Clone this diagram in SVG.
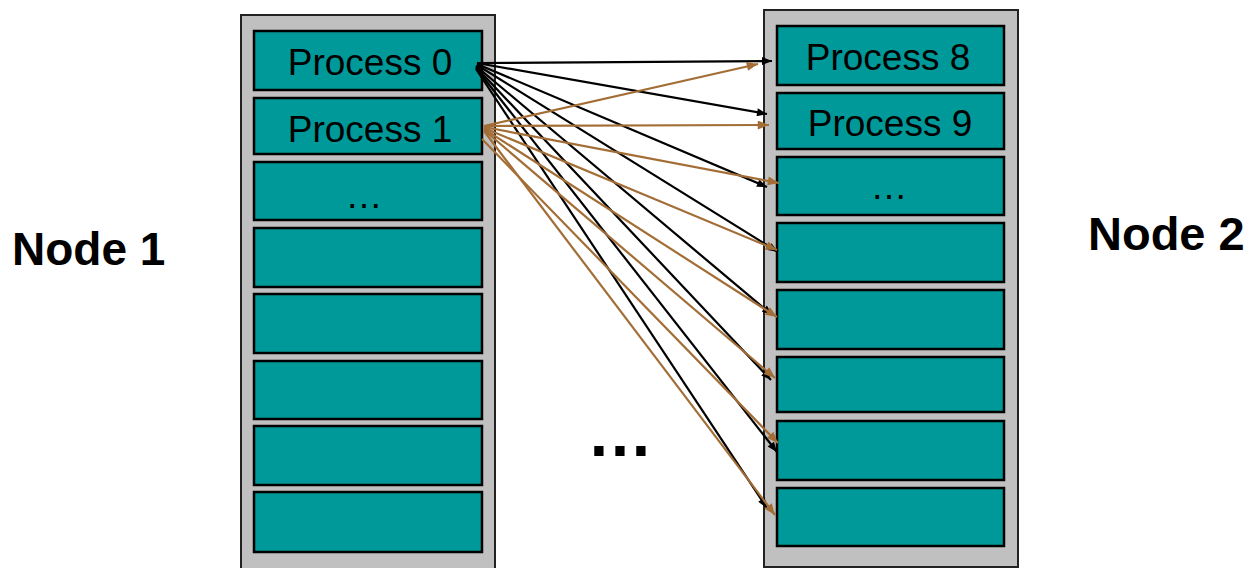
<svg xmlns="http://www.w3.org/2000/svg" width="1251" height="568" viewBox="0 0 1251 568">
<style>
.cont{fill:#c0c0c0;stroke:#222;stroke-width:2}
.box{fill:#009999;stroke:#000;stroke-width:2.5}
.lbl{font-family:"Liberation Sans",Arial,sans-serif;font-size:37px;fill:#000;text-anchor:middle}
.node{font-family:"Liberation Sans",Arial,sans-serif;font-weight:bold;fill:#000}
.blk{stroke:#000;stroke-width:2.2;fill:none;marker-end:url(#ah-b)}
.brn{stroke:#a36d36;stroke-width:2.2;fill:none;marker-end:url(#ah-o)}
</style>
<defs>
<marker id="ah-b" viewBox="0 0 10 8" refX="10" refY="4" markerWidth="11" markerHeight="8" markerUnits="userSpaceOnUse" orient="auto"><path d="M0,0 L10,4 L0,8 z" fill="#000"/></marker>
<marker id="ah-o" viewBox="0 0 10 8" refX="10" refY="4" markerWidth="12" markerHeight="9" markerUnits="userSpaceOnUse" orient="auto"><path d="M0,0 L10,4 L0,8 z" fill="#a36d36"/></marker>
</defs>
<rect width="1251" height="568" fill="#fff"/>
<g id="node1">
<rect class="cont" x="241" y="15" width="254" height="560"/>
<g id="p0"><rect class="box" x="254" y="31" width="228" height="59"/><text class="lbl" x="370" y="75">Process 0</text></g>
<g id="p1"><rect class="box" x="254" y="98" width="228" height="56"/><text class="lbl" x="370" y="142">Process 1</text></g>
<g id="p2"><rect class="box" x="254" y="162" width="228" height="58"/><text class="lbl" x="364" y="208">…</text></g>
<g id="p3"><rect class="box" x="254" y="228" width="228" height="59"/></g>
<g id="p4"><rect class="box" x="254" y="294" width="228" height="59"/></g>
<g id="p5"><rect class="box" x="254" y="361" width="228" height="58"/></g>
<g id="p6"><rect class="box" x="254" y="426" width="228" height="59"/></g>
<g id="p7"><rect class="box" x="254" y="492" width="228" height="60"/></g>
<text class="node" x="12" y="265" font-size="46">Node 1</text>
</g>
<g id="node2">
<rect class="cont" x="764" y="10" width="254" height="557"/>
<g id="p8"><rect class="box" x="777" y="26" width="227" height="59"/><text class="lbl" x="888" y="70">Process 8</text></g>
<g id="p9"><rect class="box" x="777" y="93" width="227" height="56"/><text class="lbl" x="890" y="136">Process 9</text></g>
<g id="p10"><rect class="box" x="777" y="157" width="227" height="58"/><text class="lbl" x="889" y="199">…</text></g>
<g id="p11"><rect class="box" x="777" y="223" width="227" height="59"/></g>
<g id="p12"><rect class="box" x="777" y="290" width="227" height="59"/></g>
<g id="p13"><rect class="box" x="777" y="357" width="227" height="55"/></g>
<g id="p14"><rect class="box" x="777" y="421" width="227" height="59"/></g>
<g id="p15"><rect class="box" x="777" y="488" width="227" height="58"/></g>
<text class="node" x="1088" y="250" font-size="47">Node 2</text>
</g>
<g id="ellipsis"><text class="node" x="620" y="456" font-size="66" text-anchor="middle">…</text></g>
<g id="connectors">
<line class="blk" x1="477" y1="63" x2="772" y2="61"/>
<line class="blk" x1="477" y1="63" x2="767" y2="114"/>
<line class="blk" x1="477" y1="64" x2="767" y2="187"/>
<line class="blk" x1="477" y1="65" x2="778" y2="252"/>
<line class="blk" x1="476" y1="66" x2="772" y2="315"/>
<line class="blk" x1="476" y1="67" x2="771" y2="380"/>
<line class="blk" x1="476" y1="68" x2="777" y2="452"/>
<line class="blk" x1="476" y1="69" x2="767" y2="508"/>
<line class="brn" x1="484" y1="126" x2="758" y2="64"/>
<line class="brn" x1="484" y1="126" x2="769" y2="125"/>
<line class="brn" x1="484" y1="127" x2="779" y2="183"/>
<line class="brn" x1="484" y1="128" x2="777" y2="250"/>
<line class="brn" x1="484" y1="129" x2="777" y2="317"/>
<line class="brn" x1="484" y1="130" x2="775" y2="378"/>
<line class="brn" x1="482" y1="139" x2="778" y2="443"/>
<line class="brn" x1="484" y1="131" x2="775" y2="515"/>
</g>
</svg>
